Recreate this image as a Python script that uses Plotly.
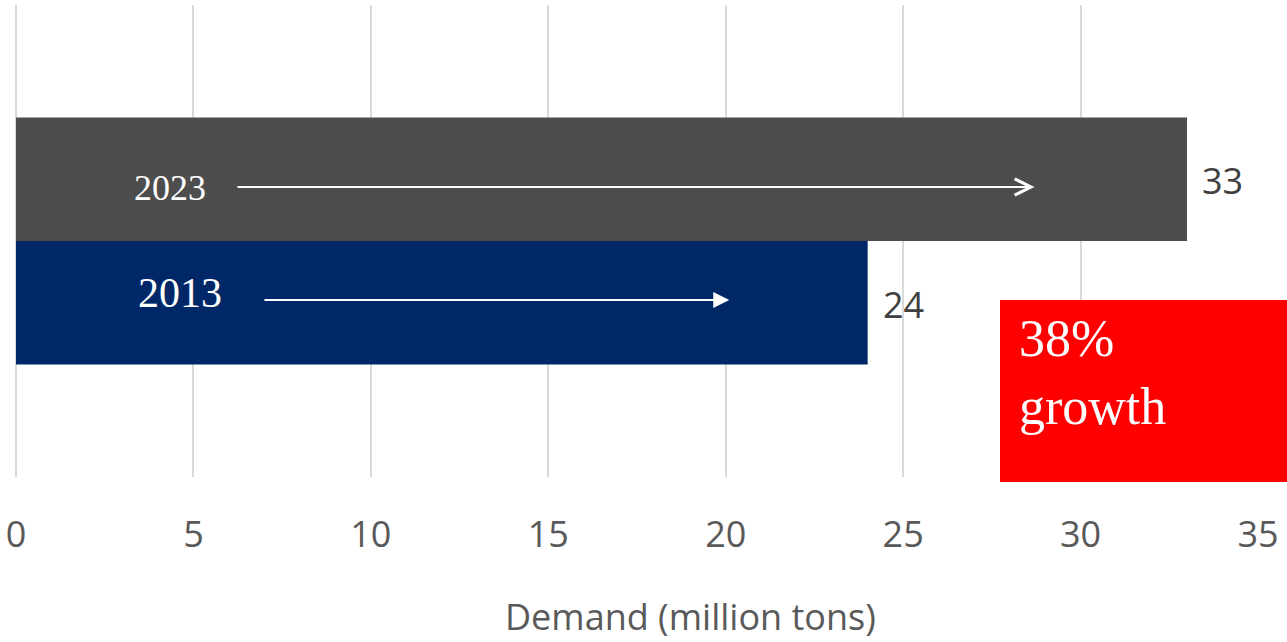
import plotly.graph_objects as go

years = ["2013", "2023"]
demand = [24, 33]
bar_colors = ["#002868", "#4D4D4D"]
growth_text = "38%<br>growth"
x_title = "Demand (million tons)"
tick_vals = [0, 5, 10, 15, 20, 25, 30, 35]

fig = go.Figure()
for yr, val, col in zip(years, demand, bar_colors):
    fig.add_trace(go.Bar(
        y=["Demand"], x=[val], orientation="h", name=yr,
        marker=dict(color=col, line=dict(width=0)),
        hoverinfo="skip",
    ))

W, H = 1287, 642
ml, mr, mt, mb = 16, 29, 5, 165
ph = H - mt - mb
pw = W - ml - mr

def ypaper(px):
    return (H - mb - px) / ph

def xpaper(px):
    return (px - ml) / pw

annotations = []
# value labels outside bars
label_y = {"2023": 180, "2013": 304}
for yr, val in zip(years, demand):
    annotations.append(dict(
        x=val, xref="x", y=ypaper(label_y[yr]), yref="paper",
        text=str(val), showarrow=False, xanchor="left", yanchor="middle",
        xshift=13, font=dict(family="Open Sans", size=36, color="#404040"),
    ))

# year labels inside bars
annotations.append(dict(x=4.34, xref="x", y=ypaper(188), yref="paper", text="2023",
                        showarrow=False, font=dict(family="Liberation Serif", size=36, color="white")))
annotations.append(dict(x=4.62, xref="x", y=ypaper(293), yref="paper", text="2013",
                        showarrow=False, font=dict(family="Liberation Serif", size=42, color="white")))

# arrows
annotations.append(dict(x=28.7, xref="x", y=ypaper(187), yref="paper",
                        ax=6.2, axref="x", ay=0, ayref="pixel", text="",
                        showarrow=True, arrowhead=5, arrowsize=1.6, arrowwidth=2, arrowcolor="white"))
annotations.append(dict(x=20.1, xref="x", y=ypaper(300), yref="paper",
                        ax=6.96, axref="x", ay=0, ayref="pixel", text="",
                        showarrow=True, arrowhead=2, arrowsize=1.6, arrowwidth=2, arrowcolor="white"))

# growth text
annotations.append(dict(x=xpaper(1017), xref="paper", y=ypaper(372), yref="paper",
                        text=growth_text, showarrow=False, xanchor="left", yanchor="middle", align="left",
                        font=dict(family="Liberation Serif", size=52, color="white")))

# x-axis title (offset to the right as in the reference)
annotations.append(dict(x=xpaper(690), xref="paper", y=ypaper(616), yref="paper",
                        text=x_title, showarrow=False, xanchor="center", yanchor="middle",
                        font=dict(family="Open Sans", size=36, color="#595959")))

fig.add_shape(type="rect", xref="paper", yref="paper",
              x0=xpaper(1000), x1=xpaper(1290),
              y0=ypaper(482), y1=ypaper(300),
              fillcolor="#FF0000", line=dict(width=0), layer="above")

fig.update_layout(
    width=W, height=H,
    margin=dict(l=ml, r=mr, t=mt, b=mb),
    paper_bgcolor="white", plot_bgcolor="white",
    barmode="group", bargap=0.477,
    showlegend=False,
    annotations=annotations,
    xaxis=dict(range=[0, 35], tickvals=tick_vals, showgrid=True, gridcolor="#D9D9D9", gridwidth=2,
               zeroline=True, zerolinecolor="#D9D9D9", zerolinewidth=2, showline=False,
               ticks="", ticklabelstandoff=33,
               tickfont=dict(family="Open Sans", size=36, color="#595959"),
               automargin=False, fixedrange=True),
    yaxis=dict(showticklabels=False, showgrid=False, zeroline=False, fixedrange=True),
)

fig.write_html("out.html", config={"displayModeBar": False})
